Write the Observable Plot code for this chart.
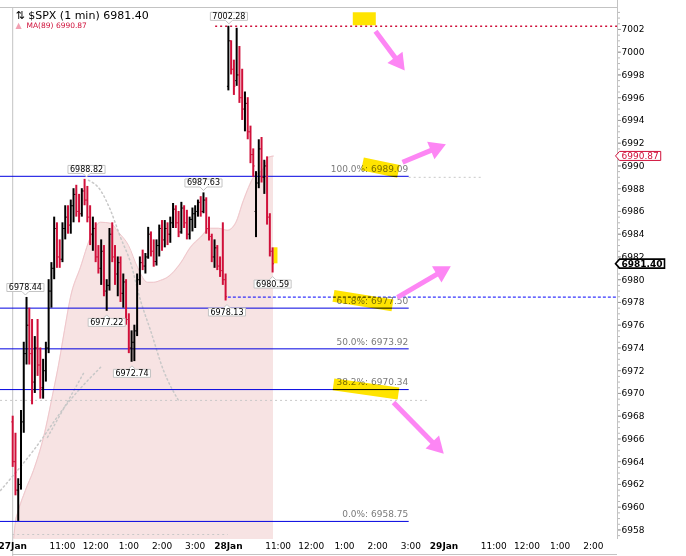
<!DOCTYPE html>
<html><head><meta charset="utf-8">
<script src="https://cdn.jsdelivr.net/npm/d3@7"></script>
<script src="https://cdn.jsdelivr.net/npm/@observablehq/plot@0.6"></script>
<style>
body{margin:0;background:#fff;}
#chart svg{font-family:"DejaVu Sans",sans-serif;display:block;}
</style></head><body><div id="chart"></div>
<script>
// ---- data: 5-minute OHLC bars, t = minutes of trading since 27 Jan 9:30 (28 Jan starts at 390)
const barT = [0,5,10,15,20,25,30,35,40,45,50,55,60,65,70,75,80,85,90,95,100,105,110,115,120,125,130,135,140,145,150,155,160,165,170,175,180,185,190,195,200,205,210,215,220,225,230,235,240,245,250,255,260,265,270,275,280,285,290,295,300,305,310,315,320,325,330,335,340,345,350,355,360,365,370,375,380,385,390,395,400,405,410,415,420,425,430,435,440,445,450,455,460,465,470];
const barOpen = [6967.5,6964.0,6961.5,6962.0,6967.5,6973.5,6976.0,6973.5,6971.0,6974.0,
6972.5,6970.5,6972.0,6974.0,6979.0,6981.0,6984.5,6982.0,6981.8,6984.5,
6985.5,6984.8,6986.5,6987.5,6986.0,6985.8,6987.8,6987.0,6985.5,6984.0,
6984.5,6982.0,6981.0,6982.5,6979.0,6979.5,6984.0,6982.0,6980.5,6981.5,
6978.8,6979.8,6976.5,6974.0,6974.5,6975.5,6980.0,6981.5,6981.2,6982.0,
6984.0,6982.5,6981.6,6983.0,6984.5,6983.5,6984.5,6984.0,6985.0,6986.2,
6985.0,6984.2,6986.3,6985.0,6984.0,6985.3,6985.8,6986.0,6986.8,6986.0,
6987.0,6984.5,6983.8,6982.0,6982.8,6981.2,6980.8,6980.0,
6997.0,7001.0,6998.5,6997.5,6998.0,6996.0,6995.0,6995.5,6993.0,6991.0,6986.0,6988.5,6991.5,6989.0,6990.0,6985.5,6982.5];
const barHigh = [6968.0,6966.5,6962.5,6968.5,6974.5,6978.44,6977.5,6976.5,6975.0,6976.5,
6974.0,6973.0,6974.5,6980.0,6981.5,6985.5,6985.0,6983.5,6985.0,6986.5,
6986.5,6987.0,6988.0,6988.3,6987.5,6988.0,6988.82,6988.2,6986.5,6985.5,
6985.0,6983.0,6983.5,6983.0,6980.0,6984.5,6985.0,6983.0,6982.0,6982.0,
6980.5,6980.0,6977.0,6975.5,6976.0,6980.5,6982.0,6982.6,6982.3,6984.6,
6984.2,6983.5,6983.5,6984.8,6985.2,6985.2,6985.0,6985.5,6986.7,6986.5,
6986.0,6986.8,6986.5,6986.1,6985.5,6986.3,6986.5,6987.0,6987.3,6987.63,
6987.2,6985.5,6984.0,6983.5,6983.0,6982.0,6985.0,6980.5,
7002.28,7001.0,6999.3,7002.1,7000.5,6998.5,6996.5,6996.0,6993.5,6991.5,6989.5,6992.3,6992.5,6990.5,6990.8,6985.8,6982.8];
const barLow = [6963.5,6961.0,6958.75,6961.5,6966.5,6972.5,6972.5,6969.0,6970.0,6971.5,
6969.5,6969.5,6971.0,6973.5,6977.5,6980.0,6981.0,6981.0,6981.5,6983.5,
6984.0,6984.0,6985.0,6985.5,6985.0,6985.5,6986.5,6985.0,6983.0,6982.5,
6981.5,6980.5,6979.5,6978.5,6977.22,6979.0,6981.5,6979.5,6978.5,6978.0,
6977.5,6976.0,6973.5,6972.74,6972.8,6975.0,6979.5,6980.8,6980.5,6981.8,
6982.0,6981.1,6981.2,6982.0,6982.5,6982.8,6983.0,6983.2,6984.5,6984.5,
6983.7,6984.0,6984.5,6983.5,6983.5,6984.2,6984.5,6985.5,6985.5,6985.8,
6984.0,6983.4,6981.5,6981.0,6980.8,6980.2,6979.5,6978.13,
6996.6,6998.0,6996.2,6997.0,6995.5,6994.0,6993.0,6992.3,6990.2,6989.0,6983.7,6988.0,6988.5,6987.5,6984.8,6982.0,6980.59];
const barClose = [6964.0,6961.5,6962.0,6967.5,6973.5,6976.0,6973.5,6971.0,6974.0,6972.5,
6970.5,6972.0,6974.0,6979.0,6981.0,6984.5,6982.0,6981.8,6984.5,6985.5,
6984.8,6986.5,6987.5,6986.0,6985.8,6987.8,6987.0,6985.5,6984.0,6984.5,
6982.0,6981.0,6982.5,6979.0,6979.5,6984.0,6982.0,6980.5,6981.5,6978.8,
6979.8,6976.5,6974.0,6974.5,6975.5,6980.0,6981.5,6981.2,6982.0,6984.0,
6982.5,6981.6,6983.0,6984.5,6983.5,6984.5,6984.0,6985.0,6986.2,6985.0,
6984.2,6986.3,6985.0,6984.0,6985.3,6985.8,6986.0,6986.8,6986.0,6987.0,
6984.5,6983.8,6982.0,6982.8,6981.2,6980.8,6980.0,6978.5,
7001.0,6998.5,6997.0,6998.0,6996.0,6995.0,6995.5,6993.0,6991.0,6990.0,6988.5,6991.5,6989.0,6990.0,6985.5,6982.5,6981.40];

// MA(89)
const maT = [2,5,8.7,23,37.6,55.7,73.8,82.8,93.7,104.5,122.6,140.7,158.8,176.9,191.3,209.4,225.7,243.8,254.6,267.3,279.9,303.4,321.5,339.6,357.7,372.2,388.4,402.9,417.4,435.5,453.6,462.6,471.6];
const maV = [6957.3,6958.75,6959.45,6961.47,6963.23,6966.13,6970.27,6972.47,6975.55,6978.45,6981.09,6983.73,6985.05,6984.96,6984.17,6983.02,6981.09,6979.77,6979.77,6979.94,6980.21,6981.44,6982.85,6983.73,6984.52,6984.52,6984.34,6984.96,6986.98,6989.0,6989.8,6990.76,6990.87];

// faint dotted band lines
const upperT = [137,158.8,176.9,194.9,213,231.1,249.2,272.7,299.8];
const upperV = [6988.74,6987.86,6986.10,6983.73,6981.53,6978.18,6975.55,6972.03,6969.39];
const lowerT = [-22,37.6,99.1,158.8];
const lowerV = [6961.47,6964.99,6969.13,6972.29];
const midT = [62.9,128];
const midV = [6966.14,6971.76];

// Fibonacci retracement
const fibPct = ["0.0%","38.2%","50.0%","61.8%","100.0%"];
const fibVal = [6958.75,6970.34,6973.92,6977.50,6989.09];
const fibEnd = 717;

// horizontal reference lines
const refV = [7002.28, 6978.47, 6989.0, 6969.39, 6957.6];
const refStart = [367, 390, 717, -22, 0];
const refEnd = [1093.7, 1093.7, 848, 750, 390];
const refKind = ["red","blue","gray","gray","gray"];

// callouts
const hiT = [391, 133.5, 345, 23];
const hiV = [7002.28, 6988.82, 6987.63, 6978.44];
const loT = [170, 215.7, 387.5, 470];
const loV = [6977.22, 6972.74, 6978.13, 6980.59];

// axis ticks
const yTicks = [6958,6960,6962,6964,6966,6968,6970,6972,6974,6976,6978,6980,6982,6984,6986,6988,6990,6992,6994,6996,6998,7000,7002];
const hourTicks = [90,150,210,270,330,480,540,600,660,720,870,930,990,1050];
const hourLabels = ["11:00","12:00","1:00","2:00","3:00","11:00","12:00","1:00","2:00","3:00","11:00","12:00","1:00","2:00"];
const dayTicks = [0,390,780];
const dayLabels = ["27Jan","28Jan","29Jan"];

// hand-drawn annotations (data space)
const hlX1 = [615.0,632.6,580.1,580.1,475.2], hlY1 = [7002.94,6990.19,6978.58,6970.80,6982.85];
const hlX2 = [656.6,697.6,686.8,697.6,475.2], hlY2 = [7002.94,6989.53,6977.74,6970.00,6981.44];
const hlW = [13,13,12,12,4];
const arX1 = [656.1,704.9,695.8,688.6], arY1 = [7001.84,6990.32,6978.45,6969.21];
const arX2 = [708.5,782.7,791.7,779.0], arY2 = [6998.41,6991.90,6981.17,6964.73];

// ---- chart
const W = 686, H = 556, mL = 0, mR = 69, mT = 7, mB = 17;
const xDomain = [-22.06, 1093.7];
const yDomain = [6957.16, 7003.93];
const RED = "#d0103a", BLUE = "#0000e0", PINK = "#fd86f4", YEL = "#ffe400";
const xs = d3.scaleLinear(xDomain, [mL, W - mR]);
const ys = d3.scaleLinear(yDomain, [H - mB, mT]);

const bars = barT.map((t,i)=>({t, o:barOpen[i], h:barHigh[i], l:barLow[i], c:barClose[i]}));
const barColor = d => d.c >= d.o ? "#000000" : RED;
const ma = maT.map((t,i)=>({t, v:maV[i]}));
const upper = upperT.map((t,i)=>({t, v:upperV[i]}));
const lower = lowerT.map((t,i)=>({t, v:lowerV[i]}));
const mid = midT.map((t,i)=>({t, v:midV[i]}));
const fib = fibVal.map((v,i)=>({v, p:fibPct[i]}));
const refs = refV.map((v,i)=>({v, a:refStart[i], b:refEnd[i], k:refKind[i]}));
const hi = hiT.map((t,i)=>({t, v:hiV[i]}));
const lo = loT.map((t,i)=>({t, v:loV[i]}));
const minorTicks = d3.range(6957.5, 7004, 0.5);
const lastClose = barClose[barClose.length-1];
const maLast = maV[maV.length-1];

const heads = arX1.map((x1,i)=>{
  const px1 = xs(x1), py1 = ys(arY1[i]), px2 = xs(arX2[i]), py2 = ys(arY2[i]);
  const dx = px2-px1, dy = py2-py1, L = Math.hypot(dx,dy);
  const ux = dx/L, uy = dy/L;
  return {sx:x1, sy:arY1[i], x: xs.invert(px2-ux*10.5), y: ys.invert(py2-uy*10.5),
          angle: Math.atan2(ux, -uy)*180/Math.PI};
});

const dotted = {red:[RED,"2,3",1.5], blue:["#0000ff","3,2",1], gray:["#c8c8c8","2,3",1]};

const svg = Plot.plot({
  width: W, height: H, marginLeft: mL, marginRight: mR, marginTop: mT, marginBottom: mB,
  style: {fontFamily: "DejaVu Sans", background: "#fff", overflow: "visible"},
  x: {domain: xDomain, axis: null},
  y: {domain: yDomain, label: null},
  marks: [
    Plot.areaY(ma, {x:"t", y1: yDomain[0], y2:"v", fill:"#f7e3e3", curve:"monotone-x"}),
    Plot.line(ma, {x:"t", y:"v", stroke:"#efc6cb", strokeWidth:1, curve:"monotone-x"}),
    Plot.line(upper, {x:"t", y:"v", stroke:"#c8c8c8", strokeDasharray:"1.5,3", curve:"monotone-x"}),
    Plot.line(lower, {x:"t", y:"v", stroke:"#c8c8c8", strokeDasharray:"1.5,3", curve:"monotone-x"}),
    Plot.line(mid, {x:"t", y:"v", stroke:"#c8c8c8", strokeDasharray:"1.5,3"}),
    ...refs.map(r => Plot.ruleY([r], {y:"v", x1:"a", x2:"b", stroke: dotted[r.k][0], strokeDasharray: dotted[r.k][1], strokeWidth: dotted[r.k][2]})),
    Plot.ruleX([0], {stroke:"#c3c3c3", insetBottom:-17}),
    Plot.ruleY([yDomain[1]], {stroke:"#c3c3c3"}),
    Plot.ruleX([xDomain[1]], {stroke:"#c3c3c3", insetTop:-7}),
    Plot.ruleY([yDomain[0]], {x1: 0, x2: xDomain[1], dy: 15, stroke:"#c3c3c3"}),
    Plot.ruleY(fib, {y:"v", x1: xDomain[0], x2: fibEnd, stroke: BLUE, strokeWidth: 1}),
    Plot.text(fib, {x: fibEnd, y:"v", text: d => `${d.p}: ${d.v.toFixed(2)}`, textAnchor:"end", dx:-1, dy:-7, fontSize:9, fill:"#7a7a7a"}),
    Plot.ruleX(bars, {x:"t", y1:"l", y2:"h", stroke: barColor, strokeWidth: 2}),
    Plot.link(bars, {x1: d => d.t - 2.6, x2:"t", y1:"o", y2:"o", stroke: barColor, strokeWidth: 1}),
    Plot.link(bars, {x1:"t", x2: d => d.t + 2.6, y1:"c", y2:"c", stroke: barColor, strokeWidth: 1}),
    ...hlX1.map((x1,i) => Plot.link([i], {x1: () => x1, y1: () => hlY1[i], x2: () => hlX2[i], y2: () => hlY2[i], stroke: YEL, strokeWidth: hlW[i], mixBlendMode: "multiply"})),
    Plot.link(heads, {x1:"sx", y1:"sy", x2:"x", y2:"y", stroke: PINK, strokeWidth: 5}),
    Plot.dot(heads, {x:"x", y:"y", symbol:"triangle", r: 7, rotate:"angle", fill: PINK, stroke: "none"}),
    Plot.text(hi, {x:"t", y:"v", text: d => d.v.toFixed(2), dy:-10, fontSize:8, fill:"#000", ariaDescription:"callout-hi"}),
    Plot.text(lo, {x:"t", y:"v", text: d => d.v.toFixed(2), dy:11, fontSize:8, fill:"#000", ariaDescription:"callout-lo"}),
    Plot.axisY(minorTicks, {anchor:"right", tickSize:2, tickFormat: () => "", stroke:"#b8b8b8"}),
    Plot.axisY(yTicks, {anchor:"right", tickSize:3, tickPadding:1, fontSize:9, stroke:"#999", fill:"#000", tickFormat: d => String(d)}),
    Plot.text([maLast], {x: xDomain[1], y: d => d, text: d => d.toFixed(2), dx:4, textAnchor:"start", fontSize:9, fill: RED, ariaDescription:"tag-red"}),
    Plot.text([lastClose], {x: xDomain[1], y: d => d, text: d => d.toFixed(2), dx:4, textAnchor:"start", fontSize:9, fontWeight:"bold", fill:"#000", ariaDescription:"tag-black"}),
    Plot.text(["⇅ $SPX (1 min) " + lastClose.toFixed(2)], {text: d => d, frameAnchor:"top-left", textAnchor:"start", lineAnchor:"middle", dx:15, dy:7.5, fontSize:11, fill:"#000"}),
    Plot.text(["▲"], {text: d => d, frameAnchor:"top-left", textAnchor:"start", lineAnchor:"middle", dx:15, dy:18, fontSize:8, fill:"#f2a0b2"}),
    Plot.text(["MA(89) " + maLast.toFixed(2)], {text: d => d, frameAnchor:"top-left", textAnchor:"start", lineAnchor:"middle", dx:26, dy:18, fontSize:7.5, fill: RED}),
    Plot.text(hourTicks, {x: d => d, text: (d,i) => hourLabels[i], frameAnchor:"bottom", lineAnchor:"middle", dy:7, fontSize:9, fill:"#000"}),
    Plot.text(dayTicks, {x: d => d, text: (d,i) => dayLabels[i], frameAnchor:"bottom", lineAnchor:"middle", dy:7, fontSize:9, fontWeight:"bold", fill:"#000"})
  ]
});
document.getElementById("chart").append(svg);

// boxes around callouts and price tags
const NS = "http://www.w3.org/2000/svg";
function addShape(desc, pathFn, style) {
  svg.querySelectorAll(`[aria-description="${desc}"] text`).forEach(t => {
    const b = t.getBBox();
    const p = document.createElementNS(NS, "path");
    const tr = t.getAttribute("transform");
    if (tr) p.setAttribute("transform", tr);
    p.setAttribute("d", pathFn(b));
    for (const k in style) p.setAttribute(k, style[k]);
    t.parentNode.insertBefore(p, t);
  });
}
const box = b => ({l: b.x - 2, r: b.x + b.width + 2, t: b.y + 0.5, bt: b.y + b.height - 0.5, cx: b.x + b.width / 2});
addShape("callout-hi", b => { const q = box(b); return `M${q.l},${q.t}H${q.r}V${q.bt}H${q.cx+3.5}L${q.cx},${q.bt+3.5}L${q.cx-3.5},${q.bt}H${q.l}Z`; },
  {fill:"#fff", stroke:"#c4c4c4", "stroke-width":1});
addShape("callout-lo", b => { const q = box(b); return `M${q.l},${q.t}H${q.cx-3.5}L${q.cx},${q.t-3.5}L${q.cx+3.5},${q.t}H${q.r}V${q.bt}H${q.l}Z`; },
  {fill:"#fff", stroke:"#c4c4c4", "stroke-width":1});
const tagPath = b => { const q = box(b); return `M${q.l},${q.t}H${q.r}V${q.bt}H${q.l}L${q.l-4},${(q.t+q.bt)/2}Z`; };
addShape("tag-red", tagPath, {fill:"#fff", stroke: RED, "stroke-width":1});
addShape("tag-black", tagPath, {fill:"#fff", stroke:"#000", "stroke-width":1.6});
</script>
</body></html>
